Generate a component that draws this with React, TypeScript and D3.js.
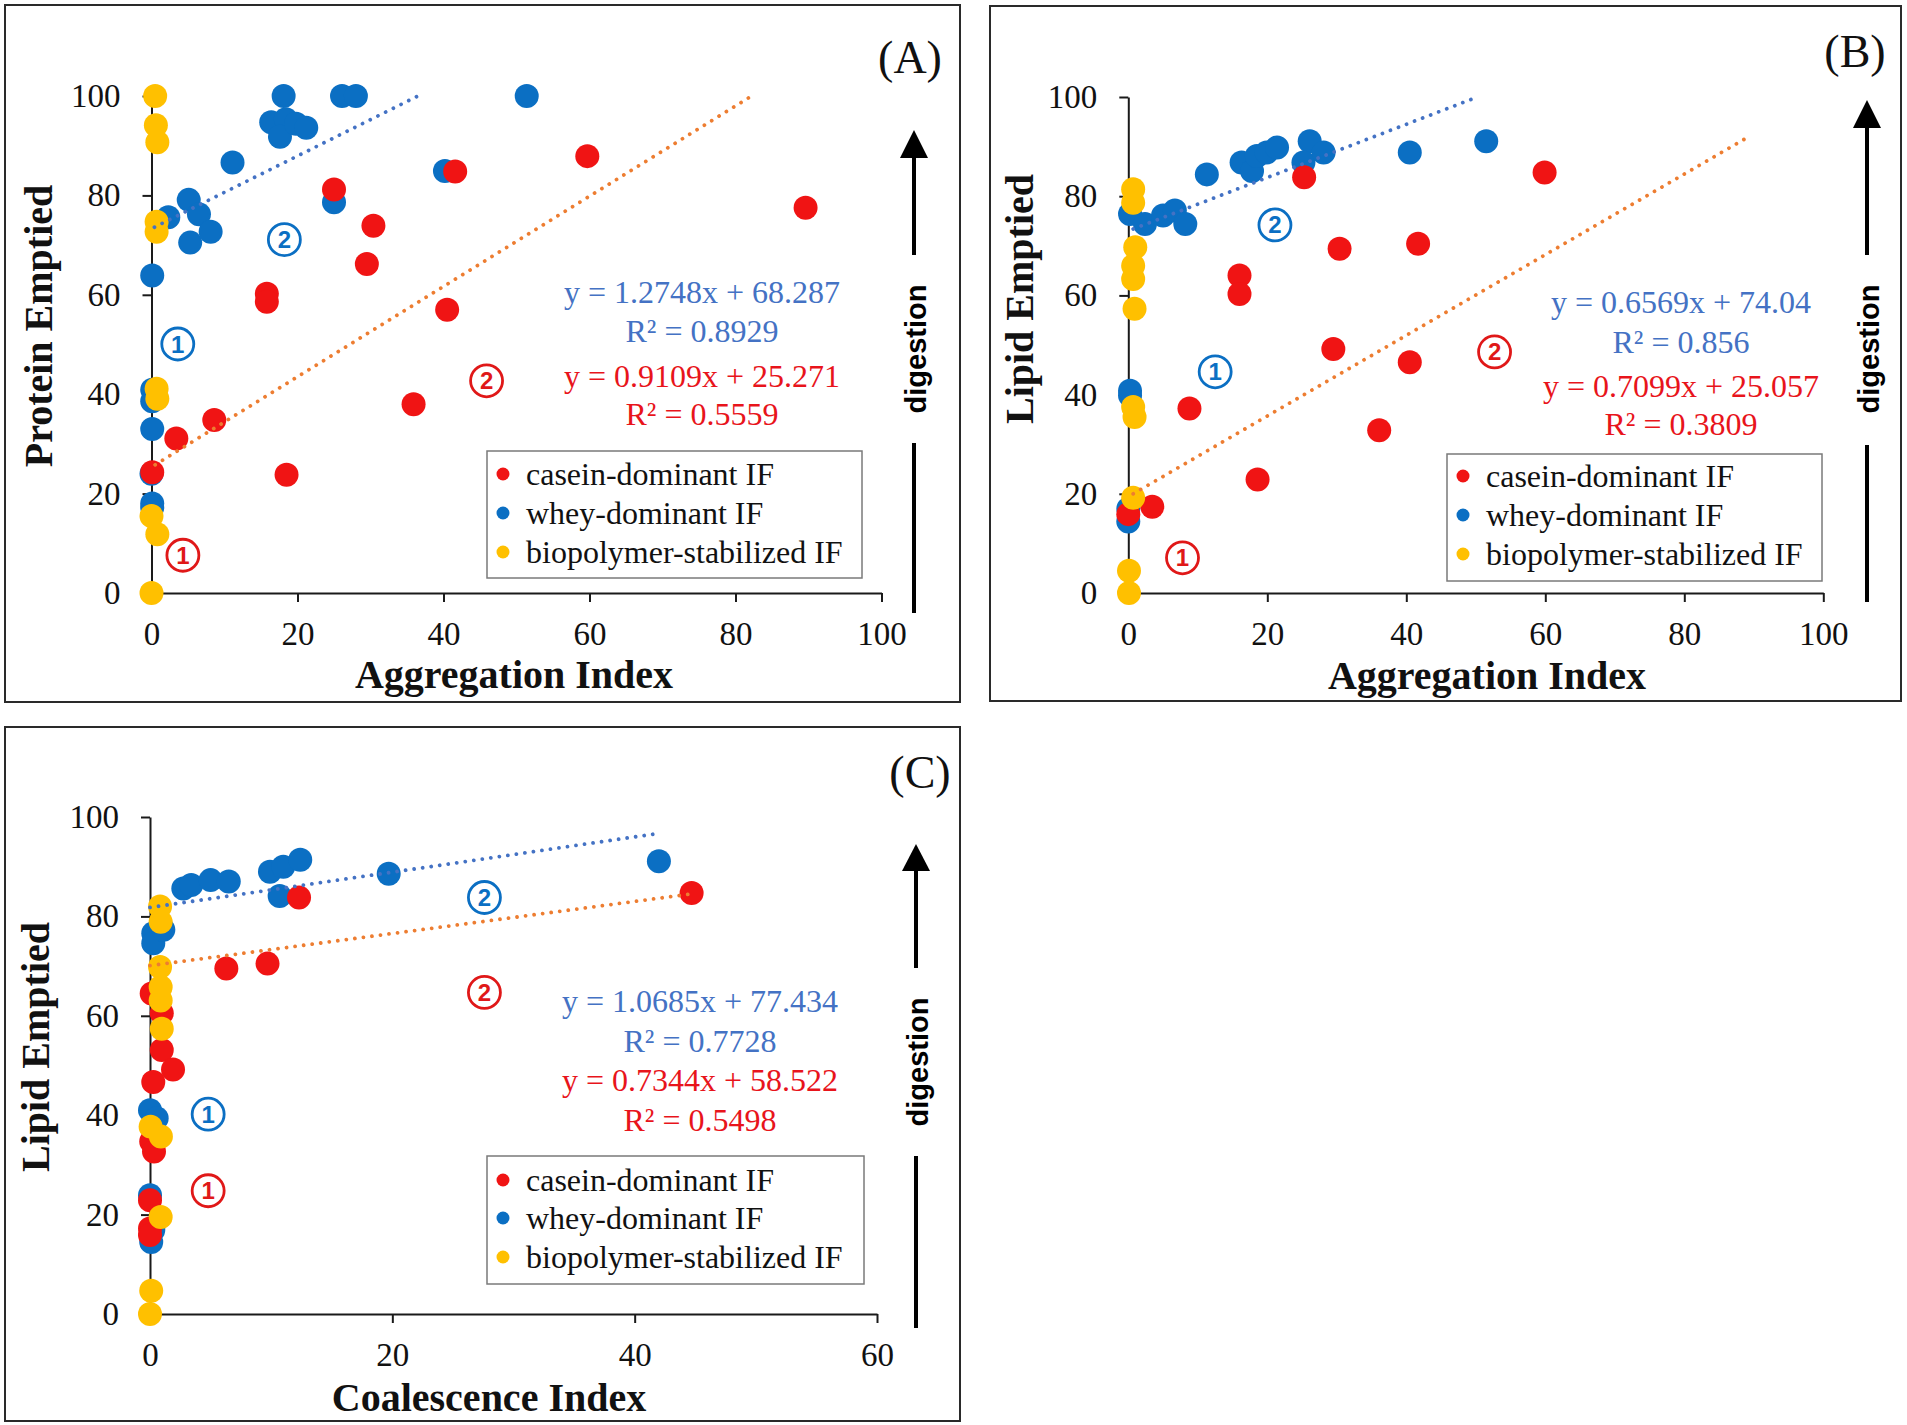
import { useEffect, useRef } from 'react';
import * as d3 from 'd3';

type Pt = [number, number];

// ---- Panel A: protein emptied vs aggregation index ----
const wheyA: Pt[] = [
  [18.1, 100], [26.1, 100], [28.0, 100], [51.4, 100], [16.4, 94.7], [18.4, 95.3],
  [17.6, 91.8], [19.8, 94.4], [21.2, 93.6], [11.1, 86.6], [40.2, 84.9], [25.0, 78.6],
  [5.1, 79.1], [2.3, 75.6], [6.5, 76.2], [5.3, 70.5], [8.1, 72.7], [0.1, 63.9],
  [0.1, 40.9], [0.1, 38.6], [0.1, 33.0], [0, 24.0], [0.1, 18.0], [0.1, 17.2],
];
const caseinA: Pt[] = [
  [59.7, 87.9], [41.6, 84.8], [89.6, 77.5], [25.0, 81.2], [30.4, 73.9], [29.5, 66.2],
  [15.8, 60.2], [15.8, 58.6], [40.5, 57.0], [35.9, 38.0], [8.6, 34.8], [3.4, 31.1],
  [18.5, 23.8], [0.1, 24.3],
];
const biopolymerA: Pt[] = [
  [0.5, 100], [0.6, 94.1], [0.8, 90.7], [0.7, 74.7], [0.7, 72.7], [0.7, 41.1],
  [0.8, 39.1], [0, 15.5], [0.8, 11.8], [0, 0],
];
const trendWheyA: Pt[] = [[0.4, 73.6], [36.5, 100]];
const trendCaseinA: Pt[] = [[0.5, 25.8], [82.2, 100]];
const equationsA = ['y = 1.2748x + 68.287', 'R² = 0.8929', 'y = 0.9109x + 25.271', 'R² = 0.5559'];
const regionsA: { label: string; kind: 'whey' | 'casein'; at: Pt }[] = [
  { label: '1', kind: 'whey', at: [3.6, 50.1] },
  { label: '2', kind: 'whey', at: [18.2, 71.1] },
  { label: '2', kind: 'casein', at: [45.9, 42.7] },
  { label: '1', kind: 'casein', at: [4.3, 7.6] },
];

// ---- Panel B: lipid emptied vs aggregation index ----
const wheyB: Pt[] = [
  [11.3, 84.4], [16.3, 86.8], [17.8, 85.1], [18.5, 88.1], [19.9, 88.8], [21.4, 89.8],
  [26.1, 91.1], [25.2, 86.8], [28.1, 88.8], [40.5, 88.8], [51.5, 91.1], [0.25, 76.4],
  [2.4, 74.4], [5.0, 76.1], [6.7, 77.1], [8.2, 74.4], [0.25, 39.8], [0.25, 40.8],
  [0, 17.0], [0, 14.4],
];
const caseinB: Pt[] = [
  [25.3, 83.8], [59.9, 84.8], [30.4, 69.4], [41.7, 70.4], [16.0, 64.0], [16.0, 60.3],
  [29.5, 49.2], [40.5, 46.5], [8.8, 37.2], [36.1, 32.8], [18.6, 22.9], [3.45, 17.4],
  [0, 15.9],
];
const biopolymerB: Pt[] = [
  [0.7, 81.4], [0.7, 78.7], [1.0, 69.7], [0.7, 66.0], [0.7, 63.3], [0.9, 57.3],
  [0.7, 37.5], [0.9, 35.5], [0.7, 19.2], [0.1, 4.5], [0.1, 0],
];
const trendWheyB: Pt[] = [[0.7, 73.4], [49.3, 99.5]];
const trendCaseinB: Pt[] = [[0.7, 20.0], [88.9, 91.7]];
const equationsB = ['y = 0.6569x + 74.04', 'R² = 0.856', 'y = 0.7099x + 25.057', 'R² = 0.3809'];
const regionsB: { label: string; kind: 'whey' | 'casein'; at: Pt }[] = [
  { label: '1', kind: 'whey', at: [12.5, 44.6] },
  { label: '2', kind: 'whey', at: [21.1, 74.2] },
  { label: '2', kind: 'casein', at: [52.7, 48.6] },
  { label: '1', kind: 'casein', at: [7.8, 7.1] },
];

// ---- Panel C: lipid emptied vs coalescence index ----
const wheyC: Pt[] = [
  [2.75, 85.6], [3.4, 86.3], [5.0, 87.3], [6.5, 87.0], [9.9, 89.0], [11.0, 90.0],
  [12.4, 91.4], [10.7, 84.1], [19.7, 88.6], [42.0, 91.1], [0.27, 76.6], [0.27, 74.6],
  [1.1, 77.3], [0, 41.0], [0.55, 39.4], [0, 23.9], [0.27, 16.9], [0.1, 14.5],
];
const caseinC: Pt[] = [
  [12.3, 83.8], [6.3, 69.5], [9.7, 70.5], [44.7, 84.7], [0.14, 64.5], [0.97, 60.5],
  [0.97, 53.1], [1.9, 49.2], [0.27, 46.7], [0.1, 34.7], [0.33, 32.7], [0, 22.9],
  [0, 17.2], [0, 15.9],
];
const biopolymerC: Pt[] = [
  [0.83, 82.0], [0.88, 78.9], [0.83, 69.8], [0.88, 65.8], [0.88, 63.1], [0.97, 57.4],
  [0.05, 37.7], [0.9, 35.7], [0.88, 19.5], [0.1, 4.7], [0, 0],
];
const trendWheyC: Pt[] = [[0, 81.8], [41.7, 96.6]];
const trendCaseinC: Pt[] = [[0, 70.1], [44.6, 84.5]];
const equationsC = ['y = 1.0685x + 77.434', 'R² = 0.7728', 'y = 0.7344x + 58.522', 'R² = 0.5498'];
const regionsC: { label: string; kind: 'whey' | 'casein'; at: Pt }[] = [
  { label: '1', kind: 'whey', at: [4.8, 40.2] },
  { label: '1', kind: 'casein', at: [4.8, 24.8] },
  { label: '2', kind: 'whey', at: [27.6, 83.8] },
  { label: '2', kind: 'casein', at: [27.6, 64.7] },
];

const seriesNames = ['casein-dominant IF', 'whey-dominant IF', 'biopolymer-stabilized IF'];
const xTicks100 = [0, 20, 40, 60, 80, 100];
const xTicks60 = [0, 20, 40, 60];
const yTicks = [0, 20, 40, 60, 80, 100];

const SERIF = '"Liberation Serif", "Times New Roman", serif';
const SANS = '"Liberation Sans", Arial, sans-serif';
const RED = '#F01414';
const BLUE = '#0B6FC3';
const YELLOW = '#FFC000';
const TREND_BLUE = '#4472C4';
const TREND_ORANGE = '#ED7D31';
const EQ_BLUE = '#4472C4';
const EQ_RED = '#E8141B';

type Layout = {
  frame: [number, number, number, number];
  xRange: [number, number];
  yRange: [number, number];
  xMax: number;
  xTicks: number[];
  xTitle: string;
  yTitle: string;
  tag: string;
  xTitlePos: Pt;
  yTitlePos: Pt;
  tagPos: Pt;
  eqX: number;
  eqY: number[];
  legend: [number, number, number, number];
  legendRows: number[];
  arrowX: number;
  arrowTip: number;
  arrowBase: number;
  arrowEnd: number;
  digestY: number;
  lowerLine: [number, number];
};

type PanelData = {
  whey: Pt[];
  casein: Pt[];
  biopolymer: Pt[];
  trendWhey: Pt[];
  trendCasein: Pt[];
  equations: string[];
  regions: { label: string; kind: 'whey' | 'casein'; at: Pt }[];
};

const layoutA: Layout = {
  frame: [5, 5, 960, 702], xRange: [151.5, 881.5], yRange: [593, 96], xMax: 100, xTicks: xTicks100,
  xTitle: 'Aggregation Index', yTitle: 'Protein Emptied', tag: '(A)',
  xTitlePos: [514, 688], yTitlePos: [38, 326], tagPos: [910, 73],
  eqX: 702, eqY: [303, 342, 387, 425],
  legend: [487, 451, 375, 127], legendRows: [23, 62, 101],
  arrowX: 914, arrowTip: 130, arrowBase: 158, arrowEnd: 255, digestY: 349, lowerLine: [443, 613],
};
const layoutB: Layout = {
  frame: [990, 6, 1901, 701], xRange: [1128.3, 1823.3], yRange: [593, 97], xMax: 100, xTicks: xTicks100,
  xTitle: 'Aggregation Index', yTitle: 'Lipid Emptied', tag: '(B)',
  xTitlePos: [1487, 689], yTitlePos: [1019, 299], tagPos: [1855, 67],
  eqX: 1681, eqY: [313, 353, 397, 435],
  legend: [1447, 454, 375, 127], legendRows: [22, 61, 100],
  arrowX: 1867, arrowTip: 100, arrowBase: 128, arrowEnd: 255, digestY: 349, lowerLine: [445, 602],
};
const layoutC: Layout = {
  frame: [5, 727, 960, 1421], xRange: [150, 877], yRange: [1314, 817], xMax: 60, xTicks: xTicks60,
  xTitle: 'Coalescence Index', yTitle: 'Lipid Emptied', tag: '(C)',
  xTitlePos: [489, 1411], yTitlePos: [35, 1047], tagPos: [920, 788],
  eqX: 700, eqY: [1012, 1052, 1091, 1131],
  legend: [487, 1156, 377, 128], legendRows: [24, 62, 101],
  arrowX: 916, arrowTip: 844, arrowBase: 871, arrowEnd: 968, digestY: 1062, lowerLine: [1156, 1328],
};

function drawPanel(
  svg: d3.Selection<SVGSVGElement, unknown, null, undefined>,
  L: Layout,
  D: PanelData
) {
  const g = svg.append('g');
  const [fx1, fy1, fx2, fy2] = L.frame;

  g.append('rect')
    .attr('x', fx1).attr('y', fy1)
    .attr('width', fx2 - fx1).attr('height', fy2 - fy1)
    .attr('fill', '#fff').attr('stroke', '#2a2a2a').attr('stroke-width', 2);

  const x = d3.scaleLinear().domain([0, L.xMax]).range(L.xRange);
  const y = d3.scaleLinear().domain([0, 100]).range(L.yRange);

  // axes
  const xAxis = g.append('g')
    .attr('transform', `translate(0,${L.yRange[0]})`)
    .call(d3.axisBottom(x).tickValues(L.xTicks).tickSizeInner(9).tickSizeOuter(0).tickPadding(20));
  const yAxis = g.append('g')
    .attr('transform', `translate(${L.xRange[0]},0)`)
    .call(d3.axisLeft(y).tickValues(yTicks).tickSizeInner(9).tickSizeOuter(0).tickPadding(22));
  [xAxis, yAxis].forEach(ax => {
    ax.select('.domain').attr('stroke', '#1a1a1a').attr('stroke-width', 2);
    ax.selectAll('.tick line').attr('stroke', '#1a1a1a').attr('stroke-width', 2);
    ax.selectAll('.tick text')
      .attr('font-family', SERIF).attr('font-size', 33).attr('fill', '#111');
  });

  // scatter: whey first, casein on top, biopolymer on top of all
  const series: [Pt[], string][] = [[D.whey, BLUE], [D.casein, RED], [D.biopolymer, YELLOW]];
  series.forEach(([pts, color]) => {
    g.append('g').selectAll('circle')
      .data(pts)
      .enter().append('circle')
      .attr('cx', d => x(d[0]))
      .attr('cy', d => y(d[1]))
      .attr('r', 12)
      .attr('fill', color);
  });

  // dotted trend lines
  const trends: [Pt[], string][] = [[D.trendWhey, TREND_BLUE], [D.trendCasein, TREND_ORANGE]];
  trends.forEach(([t, color]) => {
    g.append('line')
      .attr('x1', x(t[0][0])).attr('y1', y(t[0][1]))
      .attr('x2', x(t[1][0])).attr('y2', y(t[1][1]))
      .attr('stroke', color).attr('stroke-width', 3.8)
      .attr('stroke-linecap', 'round')
      .attr('stroke-dasharray', '0.01 8.6');
  });

  // circled region numbers
  D.regions.forEach(r => {
    const color = r.kind === 'whey' ? BLUE : '#E01818';
    const cx = x(r.at[0]);
    const cy = y(r.at[1]);
    g.append('circle')
      .attr('cx', cx).attr('cy', cy).attr('r', 16)
      .attr('fill', '#fff').attr('stroke', color).attr('stroke-width', 2.8);
    g.append('text')
      .attr('x', cx).attr('y', cy + 8.5)
      .attr('text-anchor', 'middle')
      .attr('font-family', SANS).attr('font-weight', 'bold').attr('font-size', 24)
      .attr('fill', color)
      .text(r.label);
  });

  // regression equations
  D.equations.forEach((eq, i) => {
    g.append('text')
      .attr('x', L.eqX).attr('y', L.eqY[i])
      .attr('text-anchor', 'middle')
      .attr('font-family', SERIF).attr('font-size', 32)
      .attr('fill', i < 2 ? EQ_BLUE : EQ_RED)
      .text(eq);
  });

  // legend
  const [lx, ly, lw, lh] = L.legend;
  g.append('rect')
    .attr('x', lx).attr('y', ly).attr('width', lw).attr('height', lh)
    .attr('fill', '#fff').attr('stroke', '#7a7a7a').attr('stroke-width', 1.5);
  const legendColors = [RED, BLUE, YELLOW];
  seriesNames.forEach((name, i) => {
    const ry = ly + L.legendRows[i];
    g.append('circle')
      .attr('cx', lx + 16).attr('cy', ry).attr('r', 6.5)
      .attr('fill', legendColors[i]);
    g.append('text')
      .attr('x', lx + 39).attr('y', ry + 11)
      .attr('font-family', SERIF).attr('font-size', 32).attr('fill', '#111')
      .text(name);
  });

  // digestion arrow
  g.append('line')
    .attr('x1', L.arrowX).attr('x2', L.arrowX)
    .attr('y1', L.arrowBase - 2).attr('y2', L.arrowEnd)
    .attr('stroke', '#000').attr('stroke-width', 4);
  g.append('path')
    .attr('d', `M${L.arrowX},${L.arrowTip} L${L.arrowX + 14},${L.arrowBase} L${L.arrowX - 14},${L.arrowBase} Z`)
    .attr('fill', '#000');
  g.append('text')
    .attr('transform', `translate(${L.arrowX + 3},${L.digestY}) rotate(-90)`)
    .attr('text-anchor', 'middle')
    .attr('dy', '0.32em')
    .attr('font-family', SANS).attr('font-weight', 'bold').attr('font-size', 29)
    .attr('fill', '#000')
    .text('digestion');
  g.append('line')
    .attr('x1', L.arrowX).attr('x2', L.arrowX)
    .attr('y1', L.lowerLine[0]).attr('y2', L.lowerLine[1])
    .attr('stroke', '#000').attr('stroke-width', 4);

  // titles
  g.append('text')
    .attr('x', L.xTitlePos[0]).attr('y', L.xTitlePos[1])
    .attr('text-anchor', 'middle')
    .attr('font-family', SERIF).attr('font-weight', 'bold').attr('font-size', 40)
    .attr('fill', '#111')
    .text(L.xTitle);
  g.append('text')
    .attr('transform', `translate(${L.yTitlePos[0]},${L.yTitlePos[1]}) rotate(-90)`)
    .attr('text-anchor', 'middle')
    .attr('dy', '0.35em')
    .attr('font-family', SERIF).attr('font-weight', 'bold').attr('font-size', 40)
    .attr('fill', '#111')
    .text(L.yTitle);
  g.append('text')
    .attr('x', L.tagPos[0]).attr('y', L.tagPos[1])
    .attr('text-anchor', 'middle')
    .attr('font-family', SERIF).attr('font-size', 46)
    .attr('fill', '#111')
    .text(L.tag);
}

export default function App() {
  const svgRef = useRef<SVGSVGElement>(null);

  useEffect(() => {
    if (!svgRef.current) return;
    d3.select(svgRef.current).selectAll('*').remove();
    const svg = d3.select(svgRef.current);

    drawPanel(svg, layoutA, {
      whey: wheyA, casein: caseinA, biopolymer: biopolymerA,
      trendWhey: trendWheyA, trendCasein: trendCaseinA,
      equations: equationsA, regions: regionsA,
    });
    drawPanel(svg, layoutB, {
      whey: wheyB, casein: caseinB, biopolymer: biopolymerB,
      trendWhey: trendWheyB, trendCasein: trendCaseinB,
      equations: equationsB, regions: regionsB,
    });
    drawPanel(svg, layoutC, {
      whey: wheyC, casein: caseinC, biopolymer: biopolymerC,
      trendWhey: trendWheyC, trendCasein: trendCaseinC,
      equations: equationsC, regions: regionsC,
    });
  }, []);

  return (
    <svg
      ref={svgRef}
      width={1907}
      height={1425}
      style={{ position: 'absolute', left: 0, top: 0, background: '#fff' }}
    />
  );
}
